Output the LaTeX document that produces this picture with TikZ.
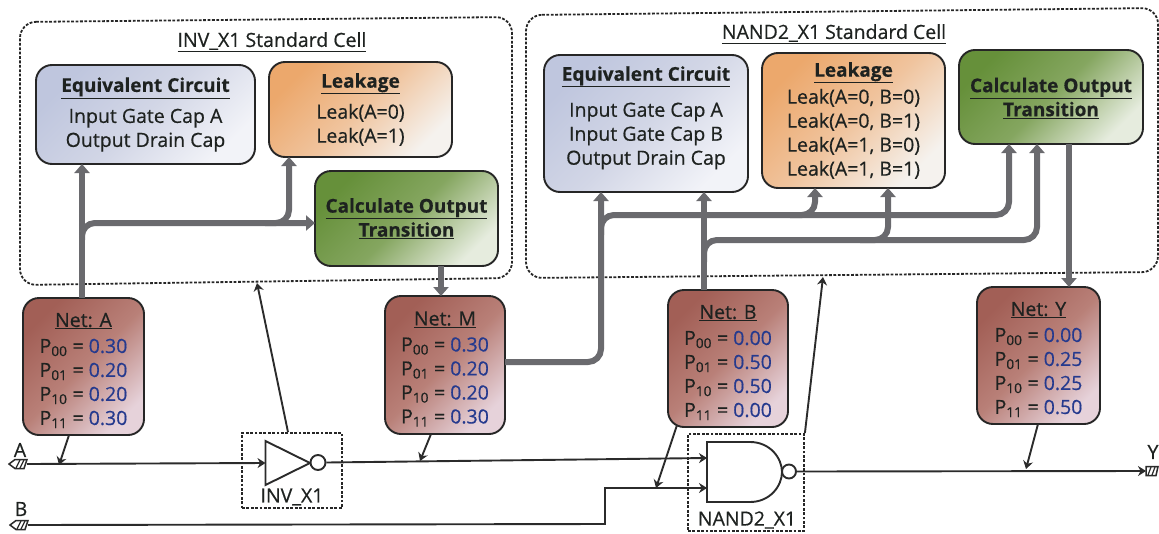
\documentclass[tikz,border=0pt]{standalone}
\usepackage{fontspec}
\setmainfont{Open Sans}[RawFeature={embolden=0.5}]
\usetikzlibrary{arrows.meta}
\definecolor{wire}{HTML}{2B2B2B}
\definecolor{pipe}{HTML}{6A6A6E}
\definecolor{val}{HTML}{253A8E}
\definecolor{txt}{HTML}{1E2220}
\definecolor{EqA}{HTML}{BFC6DE}\definecolor{EqM}{HTML}{D2D6E6}\definecolor{EqB}{HTML}{F2F3F8}
\definecolor{LkA}{HTML}{ECA86C}\definecolor{LkM}{HTML}{F0C49E}\definecolor{LkB}{HTML}{F5F2EE}
\definecolor{CaA}{HTML}{66903A}\definecolor{CaM}{HTML}{85A660}\definecolor{CaB}{HTML}{E6ECDE}
\definecolor{NtA}{HTML}{A25F56}\definecolor{NtM}{HTML}{B98078}\definecolor{NtB}{HTML}{E6D2DA}
\newcommand{\ttl}[1]{{\fontsize{19}{24}\selectfont\textbf{\underline{#1}}}}
\newcommand{\pv}[2]{P\textsubscript{#1} = \textcolor{val}{#2}}
\newcommand{\lift}{\rule{0pt}{22pt}}
\tikzset{
  x=1pt,y=-1pt,
  card/.style={draw=black!85,line width=1.9pt,rounded corners=16pt,inner sep=0pt,align=center,
    text=txt,font=\fontsize{19.5}{24}\selectfont},
  eqbox/.style={card,top color=EqA,bottom color=EqB,middle color=EqM,shading angle=45},
  leakbox/.style={card,top color=LkA,bottom color=LkB,middle color=LkM,shading angle=45},
  calcbox/.style={card,top color=CaA,bottom color=CaB,middle color=CaM,shading angle=45},
  netbox/.style={card,top color=NtA,bottom color=NtB,middle color=NtM,shading angle=45},
  pipeline/.style={draw=pipe,line width=6pt,rounded corners=13pt},
  pipearrow/.style={pipeline,-{Triangle[width=15pt,length=9pt]}},
  thin/.style={draw=wire,line width=1.9pt},
  thinarrow/.style={thin,-{Stealth[width=10pt,length=8pt]}},
  cellframe/.style={draw=black!85,line width=1.8pt,dash pattern=on 2.8pt off 1.6pt,rounded corners=16pt},
  gateframe/.style={draw=black!85,line width=1.8pt,dash pattern=on 2.8pt off 1.6pt,inner sep=0pt},
  gate/.style={draw=wire,line width=1.9pt,fill=white},
  caption/.style={text=txt,inner sep=0pt,font=\fontsize{19.5}{22}\selectfont},
  term/.style={draw=wire,line width=1.5pt,fill=white},
}
\begin{document}
\begin{tikzpicture}
\useasboundingbox (0,0) rectangle (1159,533);
% cell frames
\draw[cellframe] (20,22) -- (512,17) -- (512,278) -- (20,285) -- cycle;
\draw[cellframe] (526,15) -- (1158,8) -- (1158,272) -- (526,278) -- cycle;
\coordinate (cellInvB) at (257,283);
\coordinate (cellNandB) at (823,277);
\node[caption] (ttlInv) at (272,42) {\underline{INV\_X1 Standard Cell}};
\node[caption] (ttlNand) at (834,34) {\underline{NAND2\_X1 Standard Cell}};
% INV cell
\node[eqbox,minimum width=219pt,minimum height=99pt] (eqI) at (145.5,114.5)
  {\ttl{Equivalent Circuit}\\[7pt]Input Gate Cap A\\Output Drain Cap};
\node[leakbox,minimum width=183pt,minimum height=95pt] (lkI) at (360.5,109.5)
  {\ttl{Leakage}\\[7pt]Leak(A=0)\\Leak(A=1)};
\node[calcbox,minimum width=183pt,minimum height=95pt] (caI) at (406.5,218.5)
  {\ttl{Calculate Output}\\\ttl{Transition}};
% NAND cell
\node[eqbox,minimum width=204pt,minimum height=137pt] (eqN) at (646,123.5)
  {\ttl{Equivalent Circuit}\\[12pt]Input Gate Cap A\\Input Gate Cap B\\Output Drain Cap\\[-8pt]\rule{0pt}{0pt}};
\node[leakbox,minimum width=183pt,minimum height=135pt] (lkN) at (853.5,120.5)
  {\ttl{Leakage}\\[3pt]Leak(A=0, B=0)\\Leak(A=0, B=1)\\Leak(A=1, B=0)\\Leak(A=1, B=1)};
\node[calcbox,minimum width=184pt,minimum height=94pt] (caN) at (1051,97)
  {\ttl{Calculate Output}\\\ttl{Transition}\\[-24pt]\rule{0pt}{0pt}};
% nets
\node[netbox,minimum width=121pt,minimum height=137pt] (netA) at (83.5,366.5)
  {\lift\underline{Net: A}\\[2pt]\pv{00}{0.30}\\\pv{01}{0.20}\\\pv{10}{0.20}\\\pv{11}{0.30}};
\node[netbox,minimum width=120pt,minimum height=138pt] (netM) at (445,365)
  {\lift\underline{Net: M}\\[2pt]\pv{00}{0.30}\\\pv{01}{0.20}\\\pv{10}{0.20}\\\pv{11}{0.30}};
\node[netbox,minimum width=120pt,minimum height=137pt] (netB) at (728,358.5)
  {\lift\underline{Net: B}\\[2pt]\pv{00}{0.00}\\\pv{01}{0.50}\\\pv{10}{0.50}\\\pv{11}{0.00}};
\node[netbox,minimum width=123pt,minimum height=137pt] (netY) at (1038.5,355.5)
  {\lift\underline{Net: Y}\\[2pt]\pv{00}{0.00}\\\pv{01}{0.25}\\\pv{10}{0.25}\\\pv{11}{0.50}};
% ports
\coordinate (pAtop) at (82,298);  \coordinate (pAeq) at (82,164);
\coordinate (pAk) at (82,240);    \coordinate (pAh) at (315,223);
\coordinate (pAlk) at (289,157);  \coordinate (pAlb) at (265,223);
\coordinate (pMtop) at (441,296); \coordinate (pMcal) at (441,266);
\coordinate (pMr) at (505,362);   \coordinate (pNq) at (601,192);
\coordinate (pNc) at (1009,144);  \coordinate (pNl) at (815,188);
\coordinate (pBtop) at (704,290); \coordinate (pBq) at (704,192);
\coordinate (pBc) at (1037,144);  \coordinate (pBl) at (888,188);
\coordinate (pYa) at (1069,144);  \coordinate (pYb) at (1069,287);
% thick connectors
\draw[pipearrow] (pAtop) -- (pAeq);
\draw[pipearrow] (pAk) |- (pAh);
\draw[pipearrow] (pAlb) -| (pAlk);
\draw[pipearrow] (pMcal) -- (pMtop);
\draw[pipearrow] (pMr) -| (pNq);
\draw[pipearrow] (601,235) |- (880,215) -| (pNc);
\draw[pipearrow] (790,215) -| (pNl);
\draw[pipearrow] (pBtop) -- (pBq);
\draw[pipearrow] (704,262) |- (960,240) -| (pBc);
\draw[pipearrow] (860,240) -| (pBl);
\draw[pipearrow] (pYa) -- (pYb);
% gate boxes
\node[gateframe,minimum width=100pt,minimum height=75pt] (boxInv) at (292,470.5) {};
\node[gateframe,minimum width=116pt,minimum height=97pt] (boxNand) at (746,482.5) {};
\node[caption] (lblInv) at (292,497) {INV\_X1};
\node[caption] (lblNand) at (747,520) {NAND2\_X1};
% gates
\coordinate (gI) at (265.5,463);
\coordinate (gNa) at (707,458);
\coordinate (gNb) at (707,488);
\draw[gate] (265.5,441) -- (310,463) -- (265.5,485) -- cycle;
\draw[gate] (707,442) -- (750,442) .. controls (770,442) and (782,458) .. (782,472)
  .. controls (782,486) and (770,502) .. (750,502) -- (707,502) -- cycle;
\node[gate,circle,inner sep=0pt,minimum size=15pt] (bubI) at (318,462.5) {};
\node[gate,circle,inner sep=0pt,minimum size=14pt] (bubN) at (789,471.5) {};
% terminals
\draw[term] (9,464) -- (15,459.5) -- (27,459.5) -- (24,468.5) -- (15,468.5) -- cycle;
\draw[term] (10,525) -- (16,520.5) -- (28,520.5) -- (25,529.5) -- (16,529.5) -- cycle;
\draw[term] (1146,466.5) -- (1158,466.5) -- (1156,475.5) -- (1146,475.5) -- cycle;
\draw[wire,line width=1.2pt] (16,468) -- (20,460) (20,468) -- (24,460) (17,529) -- (21,521) (21,529) -- (25,521) (1148,475) -- (1151,467) (1152,475) -- (1155,467);
\coordinate (tA) at (27,464);
\coordinate (tB) at (28,525);
\coordinate (tY) at (1146,471);
\node[caption] (lA) at (20,450) {A};
\node[caption] (lB) at (21,509) {B};
\node[caption] (lY) at (1153,452) {Y};
% thin wires
\draw[thinarrow] (tA) -- (gI);
\draw[thinarrow] (bubI.east) -- (gNa);
\draw[thinarrow] (tB) -- (605,524) -- (605,488) -- (gNb);
\draw[thinarrow] (bubN.east) -- (tY);
% pointers
\coordinate (aA) at (59,465);
\coordinate (aM) at (420,461);
\coordinate (aB) at (656,488);
\coordinate (aY) at (1026,469);
\coordinate (sA) at (69,435);
\coordinate (sM) at (431,434);
\coordinate (sB) at (677,425);
\coordinate (sY) at (1038,424);
\draw[thinarrow] (sA) -- (aA);
\draw[thinarrow] (sM) -- (aM);
\draw[thinarrow] (sB) -- (aB);
\draw[thinarrow] (sY) -- (aY);
\draw[thinarrow] (boxInv.north -| 288,0) -- (cellInvB);
\draw[thinarrow] (boxNand.north east) -- (cellNandB);
\end{tikzpicture}
\end{document}
